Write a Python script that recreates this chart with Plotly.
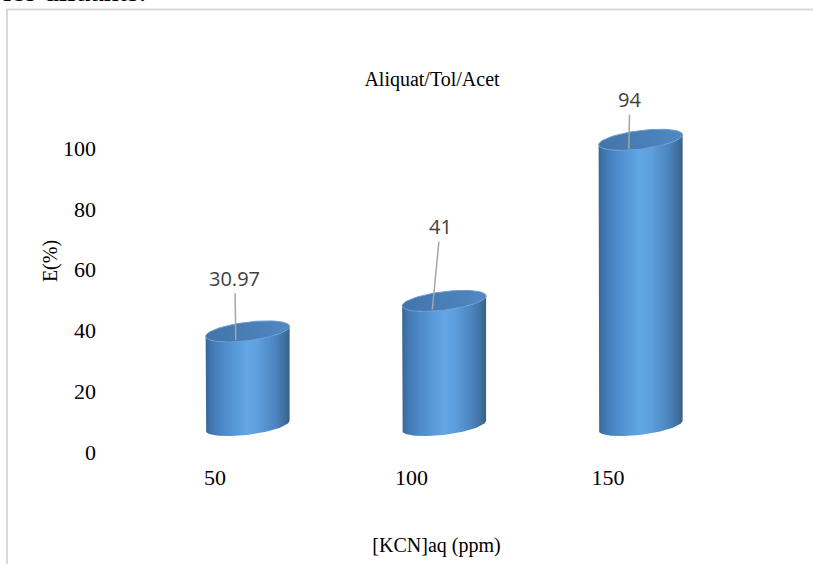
import numpy as np
import plotly.graph_objects as go

# Extraction yield E(%) versus aqueous KCN concentration (Aliquat/Tol/Acet system)
categories = ["50", "100", "150"]
extraction = [30.97, 41, 94]
y_ticks = [0, 20, 40, 60, 80, 100]

# Figure geometry
W, H = 813, 564
L, R, T, B = 100, 40, 60, 102
PW, PH = W - L - R, H - T - B

# Axis ranges (category index on x, percent on y)
X_RANGE = [-0.58524, 2.83969]
Y_RANGE = [-3.2895, 128.947]

# Pseudo-3D cylinder geometry in data units
DEPTH_X, DEPTH_Y = 0.166, 8.7     # back-plane offset of the bars
RX = 0.2137                        # cylinder half-width
RY = 3.06                          # ellipse half-height
TILT = 1.64                        # ellipse tilt (right side higher)

BODY_SCALE = [
    [0.0, "#386797"], [0.08, "#4279b4"], [0.22, "#4d8bca"],
    [0.5, "#63a7e6"], [0.62, "#5e9fdd"], [0.82, "#4c86c1"],
    [0.94, "#40709f"], [1.0, "#395f87"],
]
TOP_SCALE = [[0.0, "#4274a9"], [0.6, "#4a80b9"], [1.0, "#5189c1"]]


def ellipse(xc, yc, th):
    return xc + RX * np.cos(th), yc + RY * np.sin(th) + TILT * np.cos(th)


fig = go.Figure()

for i, v in enumerate(extraction):
    xc = i + DEPTH_X
    y0 = DEPTH_Y
    y1 = DEPTH_Y + v
    front = np.linspace(np.pi, 2 * np.pi, 60)
    bx, by = ellipse(xc, y0, front)
    tx, ty = ellipse(xc, y1, front[::-1])
    body_x = np.concatenate([[xc - RX], bx, tx, [xc - RX]])
    body_y = np.concatenate([[y1 - TILT], by, ty, [y1 - TILT]])
    fig.add_trace(go.Scatter(
        x=body_x, y=body_y, mode="lines", fill="toself",
        line=dict(width=0, color="rgba(0,0,0,0)"),
        fillgradient=dict(type="horizontal", colorscale=BODY_SCALE),
        hoverinfo="skip", showlegend=False,
    ))
    full = np.linspace(0, 2 * np.pi, 120)
    ex, ey = ellipse(xc, y1, full)
    fig.add_trace(go.Scatter(
        x=ex, y=ey, mode="lines", fill="toself",
        line=dict(width=1, color="#6a9ed2"),
        fillgradient=dict(type="horizontal", colorscale=TOP_SCALE),
        hoverinfo="skip", showlegend=False,
    ))

# Value labels with leader lines onto the top faces
label_offsets = [(-1, -62), (8, -83), (1, -49)]
for i, v in enumerate(extraction):
    ax, ay = label_offsets[i]
    fig.add_annotation(
        x=i + DEPTH_X - 0.06, y=DEPTH_Y + v - 2.9, xref="x", yref="y",
        text=f"{v:g}", showarrow=True, arrowhead=0, arrowwidth=1.5,
        arrowcolor="#a6a6a6", ax=ax, ay=ay, axref="pixel", ayref="pixel",
        font=dict(family="Open Sans", size=20, color="#404040"),
    )

# Running text of the page above the chart
fig.add_annotation(
    x=(1 - L) / PW, y=(H - B + 10) / PH, xref="paper", yref="paper",
    xanchor="left", yanchor="middle", showarrow=False,
    text="les diluants.",
    font=dict(family="Liberation Serif", size=30, color="#000000"),
)

# Chart frame
fig.add_shape(
    type="rect", xref="paper", yref="paper",
    x0=(7 - L) / PW, x1=(W + 5 - L) / PW,
    y0=(H - B - (H + 10)) / PH, y1=(H - B - 9.5) / PH,
    line=dict(color="#d9d9d9", width=2), fillcolor="rgba(0,0,0,0)",
)

serif = "Liberation Serif"
fig.update_layout(
    width=W, height=H,
    margin=dict(l=L, r=R, t=T, b=B),
    paper_bgcolor="white", plot_bgcolor="white",
    title=dict(
        text="Aliquat/Tol/Acet", x=432 / W, y=1 - 79 / H,
        xanchor="center", yanchor="middle",
        font=dict(family=serif, size=20, color="#000000"),
    ),
    xaxis=dict(
        range=X_RANGE, tickvals=list(range(len(categories))),
        ticktext=categories, showgrid=False, zeroline=False,
        showline=False, ticks="",
        tickfont=dict(family=serif, size=22, color="#000000"),
        title=dict(text="[KCN]aq (ppm)", standoff=48,
                   font=dict(family=serif, size=20, color="#000000")),
    ),
    yaxis=dict(
        range=Y_RANGE, tickvals=y_ticks, showgrid=False, zeroline=False,
        showline=False, ticks="", ticklabelstandoff=3,
        tickfont=dict(family=serif, size=22, color="#000000"),
        title=dict(text="E(%)", standoff=0,
                   font=dict(family=serif, size=20, color="#000000")),
    ),
)

fig.write_html("out.html")
